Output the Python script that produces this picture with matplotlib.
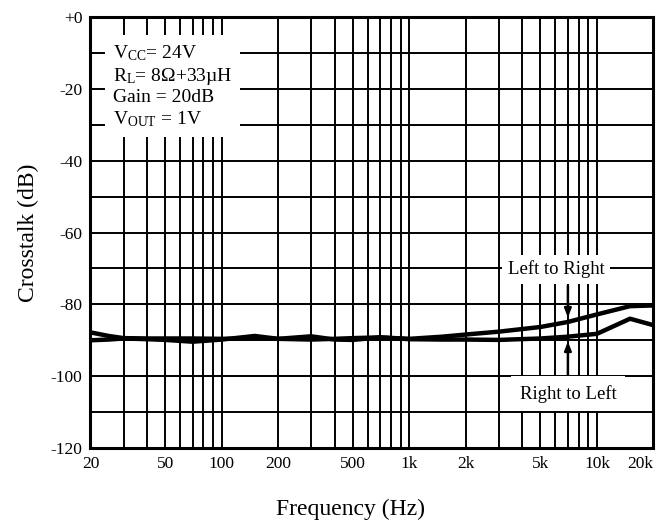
import numpy as np
import matplotlib
matplotlib.use('Agg')
import matplotlib.pyplot as plt
from matplotlib.ticker import FixedLocator, NullFormatter

plt.rcParams['font.family'] = ['Liberation Serif', 'DejaVu Serif']
plt.rcParams['mathtext.fontset'] = 'custom'
plt.rcParams['mathtext.rm'] = 'Liberation Serif'
plt.rcParams['mathtext.it'] = 'Liberation Serif:italic'

# crosstalk curves
freq = [20, 25, 30, 40, 50, 70, 100, 150, 200, 300, 400, 500, 700, 1000,
        1500, 2000, 3000, 5000, 7000, 10000, 15000, 20000]
left_to_right = [-87.8, -88.8, -89.4, -89.5, -89.5, -89.5, -89.6, -89.5, -89.6, -89.8, -89.6,
                 -89.4, -89.2, -89.6, -89.0, -88.4, -87.6, -86.3, -84.9, -82.8, -80.5, -80.3]
right_to_left = [-90.0, -89.8, -89.5, -89.7, -89.9, -90.4, -89.8, -88.8, -89.6, -88.9, -89.8,
                 -89.9, -89.2, -89.7, -89.8, -89.8, -89.9, -89.5, -89.0, -88.2, -84.0, -85.8]

xtick_vals = [20, 50, 100, 200, 500, 1000, 2000, 5000, 10000, 20000]
xtick_labels = ['20', '50', '100', '200', '500', '1k', '2k', '5k', '10k', '20k']
ytick_vals = [0, -20, -40, -60, -80, -100, -120]
ytick_labels = ['+0', '-20', '-40', '-60', '-80', '-100', '-120']

fig = plt.figure(figsize=(6.6, 5.24), dpi=100)
ax = fig.add_axes([0.1371, 0.145, 0.853, 0.8225])

ax.set_xscale('log')
ax.set_xlim(20, 20000)
ax.set_ylim(-120, 0)

ax.set_xticks(xtick_vals)
ax.set_xticklabels(xtick_labels)
# last label sits inside the figure, as in the original
ax.get_xticklabels()[-1].set_horizontalalignment('right')
minor_x = list(range(30, 100, 10)) + list(range(100, 1000, 100)) + list(range(1000, 10001, 1000))
ax.xaxis.set_minor_locator(FixedLocator(minor_x))
ax.xaxis.set_minor_formatter(NullFormatter())
ax.set_yticks(ytick_vals)
ax.set_yticklabels(ytick_labels)
ax.yaxis.set_minor_locator(FixedLocator(list(range(-110, 0, 20))))

ax.tick_params(which='both', length=0, labelsize=12.5, pad=6)
ax.grid(which='both', color='black', linewidth=1.4)
ax.set_axisbelow(True)
for s in ax.spines.values():
    s.set_linewidth(2.2)

ax.plot(freq, left_to_right, color='black', linewidth=3.2, zorder=3)
ax.plot(freq, right_to_left, color='black', linewidth=3.2, zorder=3)

ax.set_ylabel('Crosstalk (dB)', fontsize=17, labelpad=8)
ax.set_xlabel('Frequency (Hz)', fontsize=17)
ax.xaxis.set_label_coords(0.461, -0.118)

cond = ('V$_{\\rm CC}$= 24V\n'
        'R$_{\\rm L}$= 8\u03a9+33\u00b5H\n'
        'Gain = 20dB\n'
        'V$_{\\rm OUT}$ = 1V')
ax.text(0.04, 0.94, cond, transform=ax.transAxes, fontsize=14, va='top', ha='left',
        linespacing=1.2, zorder=5,
        bbox=dict(facecolor='white', edgecolor='none', boxstyle='square,pad=0.4'))

ax.text(6040, -70.2, 'Left to Right', fontsize=13.5, ha='center', va='center', zorder=5,
        bbox=dict(facecolor='white', edgecolor='none', boxstyle='square,pad=0.3'))
ax.text(7000, -104.9, 'Right to Left', fontsize=13.5, ha='center', va='center', zorder=5,
        bbox=dict(facecolor='white', edgecolor='none', boxstyle='square,pad=0.45'))

ax.annotate('', xy=(7000, -84.4), xytext=(7000, -74.0),
            arrowprops=dict(arrowstyle='-|>,head_length=0.5,head_width=0.2', color='black', lw=1.8),
            zorder=4)
ax.annotate('', xy=(7000, -89.6), xytext=(7000, -100.5),
            arrowprops=dict(arrowstyle='-|>,head_length=0.5,head_width=0.2', color='black', lw=1.8),
            zorder=4)

fig.savefig('out.png', dpi=100)
